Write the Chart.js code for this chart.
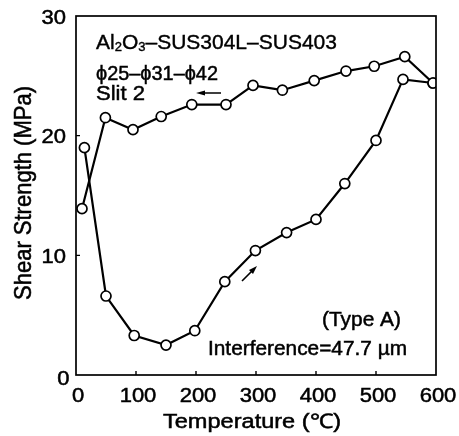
<!DOCTYPE html>
<html>
<head>
<meta charset="utf-8">
<script src="https://cdn.jsdelivr.net/npm/chart.js@4.4.0/dist/chart.umd.min.js"></script>
<style>
  html, body { margin: 0; padding: 0; background: #fff; }
  #wrap { width: 459px; height: 436px; }
</style>
</head>
<body>
<div id="wrap"><canvas id="shearChart" width="459" height="436"></canvas></div>
<script>
// heating run (lower branch, arrow pointing up-right)
const heatTemp = [14, 50, 97, 150, 198, 248, 299, 351, 400, 448, 500, 545, 595];
const heatShear = [19.0, 6.6, 3.3, 2.5, 3.7, 7.8, 10.4, 11.9, 13.0, 16.0, 19.6, 24.7, 24.4];
// cooling run (upper branch, arrow pointing left)
const coolTemp = [595, 548, 497, 450, 397, 344, 295, 250, 193, 142, 95, 49, 10];
const coolShear = [24.4, 26.6, 25.8, 25.4, 24.6, 23.8, 24.2, 22.6, 22.6, 21.6, 20.5, 21.5, 13.9];
const xTicks = [0, 100, 200, 300, 400, 500, 600];
const yTicks = [0, 10, 20, 30];
const xTitle = 'Temperature (\u2103)';
const yTitle = 'Shear Strength (MPa)';

const FONT = "'Liberation Sans', Arial, sans-serif";

function toPoints(xs, ys) {
  return xs.map((x, i) => ({ x: x, y: ys[i] }));
}

// text stretched sideways by k (the scanned figure uses wide, heavy lettering)
function wideText(ctx, str, x, y, size, k, align) {
  ctx.font = size + 'px ' + FONT;
  const w = ctx.measureText(str).width * k;
  let x0 = x;
  if (align === 'center') x0 = x - w / 2;
  if (align === 'right') x0 = x - w;
  ctx.save();
  ctx.translate(x0, y);
  ctx.scale(k, 1);
  ctx.textAlign = 'left';
  ctx.lineWidth = 0.5;
  ctx.fillText(str, 0, 0);
  ctx.strokeText(str, 0, 0);
  ctx.restore();
  return w;
}

// stretch a string so it spans the given width
function fitText(ctx, str, x, y, size, width) {
  ctx.font = size + 'px ' + FONT;
  const k = width / ctx.measureText(str).width;
  wideText(ctx, str, x, y, size, k, 'left');
}

const pointStyle = {
  showLine: true,
  borderColor: '#000',
  borderWidth: 2.2,
  pointRadius: 5,
  pointBorderWidth: 1.7,
  pointBackgroundColor: '#fff',
  pointBorderColor: '#000',
  tension: 0,
};

// frame, inward ticks, labels, notes and arrows
const decorations = {
  id: 'decorations',
  afterDraw(chart) {
    const ctx = chart.ctx;
    const a = chart.chartArea;
    const xs = chart.scales.x, ys = chart.scales.y;
    ctx.save();
    ctx.strokeStyle = '#000';
    ctx.fillStyle = '#000';
    ctx.lineWidth = 1.7;
    ctx.strokeRect(a.left, a.top, a.right - a.left, a.bottom - a.top);

    ctx.lineWidth = 1.4;
    ctx.beginPath();
    xTicks.slice(1, -1).forEach(v => {
      const px = xs.getPixelForValue(v);
      ctx.moveTo(px, a.bottom);
      ctx.lineTo(px, a.bottom - 4);
    });
    yTicks.slice(1, -1).forEach(v => {
      const py = ys.getPixelForValue(v);
      ctx.moveTo(a.left, py);
      ctx.lineTo(a.left + 4, py);
    });
    ctx.stroke();

    ctx.textBaseline = 'alphabetic';
    // tick labels
    xTicks.forEach(v => {
      wideText(ctx, String(v), xs.getPixelForValue(v) + 2, a.bottom + 26.5, 20, 1.1, 'center');
    });
    yTicks.forEach(v => {
      const py = ys.getPixelForValue(v);
      if (v === 0) wideText(ctx, '0', a.left - 6.5, py + 10, 20, 1.1, 'right');
      else wideText(ctx, String(v), a.left - 10, py + 7.5, 20, 1.1, 'right');
    });

    // axis titles
    fitText(ctx, xTitle, 163, 428, 20, 178);
    ctx.save();
    ctx.translate(31, 193);
    ctx.rotate(-Math.PI / 2);
    ctx.scale(1, 1.08);
    ctx.font = '22px ' + FONT;
    ctx.textAlign = 'center';
    ctx.lineWidth = 0.5;
    ctx.fillText(yTitle, 0, 0);
    ctx.strokeText(yTitle, 0, 0);
    ctx.restore();

    // notes
    const big = '21px ' + FONT, small = '13px ' + FONT;
    let x = 96, y = 49;
    const parts = [['Al', big, 0], ['2', small, 2], ['O', big, 0], ['3', small, 2], ['\u2013SUS304L\u2013SUS403', big, 0]];
    ctx.textAlign = 'left';
    ctx.lineWidth = 0.4;
    parts.forEach(p => {
      ctx.font = p[1];
      ctx.fillText(p[0], x, y + p[2]);
      ctx.strokeText(p[0], x, y + p[2]);
      x += ctx.measureText(p[0]).width;
    });
    fitText(ctx, '\u03D525\u2013\u03D531\u2013\u03D542', 96, 80, 21, 122);
    fitText(ctx, 'Slit 2', 96, 100, 21, 49);
    fitText(ctx, '(Type A)', 322, 326, 21, 79);
    fitText(ctx, 'Interference=47.7 \u00B5m', 208, 355, 20, 199);

    // arrows
    ctx.lineWidth = 1.6;
    ctx.beginPath();
    ctx.moveTo(221, 93); ctx.lineTo(200, 93);
    ctx.moveTo(242, 281); ctx.lineTo(254, 269);
    ctx.stroke();
    ctx.beginPath();
    ctx.moveTo(196, 93); ctx.lineTo(205, 90.5); ctx.lineTo(205, 95.5); ctx.closePath();
    ctx.moveTo(257, 266); ctx.lineTo(249, 270); ctx.lineTo(253, 274); ctx.closePath();
    ctx.fill();
    ctx.restore();
  }
};

new Chart(document.getElementById('shearChart').getContext('2d'), {
  type: 'scatter',
  data: {
    datasets: [
      Object.assign({ label: 'Heating', data: toPoints(heatTemp, heatShear) }, pointStyle),
      Object.assign({ label: 'Cooling', data: toPoints(coolTemp, coolShear) }, pointStyle),
    ]
  },
  options: {
    responsive: false,
    animation: false,
    layout: { padding: { left: 0, right: 23, top: 16, bottom: 0 } },
    plugins: {
      legend: { display: false },
      tooltip: { enabled: false },
    },
    scales: {
      x: {
        type: 'linear',
        min: 0,
        max: 600,
        afterBuildTicks: s => { s.ticks = xTicks.map(v => ({ value: v })); },
        afterFit: s => { s.height = 61; },
        grid: { display: false },
        border: { display: false },
        ticks: { display: false },
      },
      y: {
        type: 'linear',
        min: 0,
        max: 30,
        afterBuildTicks: s => { s.ticks = yTicks.map(v => ({ value: v })); },
        afterFit: s => { s.width = 76; },
        grid: { display: false },
        border: { display: false },
        ticks: { display: false },
      },
    },
  },
  plugins: [decorations],
});
</script>
</body>
</html>
